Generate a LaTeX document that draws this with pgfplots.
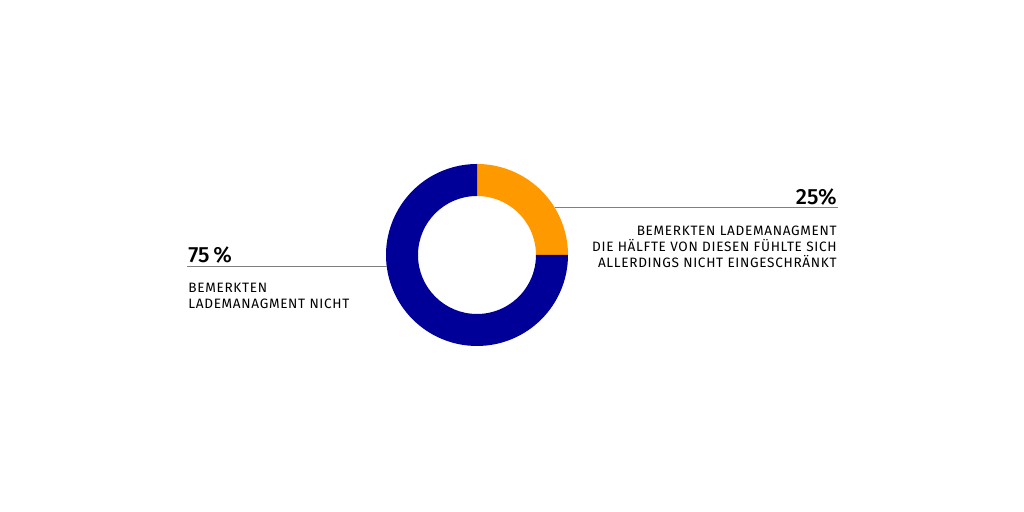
\documentclass[border=0pt]{standalone}
\usepackage{fontspec}
\setmainfont{Fira Sans}
\newfontfamily\labfont[LetterSpace=5]{Fira Sans}
\newfontfamily\numfont[UprightFont={* Medium}]{Fira Sans}
\usepackage{pgfplots}
\usepackage{pgfplotstable}
\pgfplotsset{compat=1.18}

\definecolor{donutorange}{RGB}{255,153,0}
\definecolor{donutblue}{RGB}{0,0,153}
\definecolor{leadergray}{RGB}{128,128,128}

% share in percent, colour
\pgfplotstableread{
share col
25    donutorange
75    donutblue
}\sharetable

\begin{document}
\begin{tikzpicture}
\begin{axis}[
  width=512pt, height=256pt, scale only axis,
  xmin=0, xmax=1024, ymin=0, ymax=512,
  hide axis, clip=false,
]
  \path (axis cs:0,0) rectangle (axis cs:1024,512);
  \pgfplotsextra{%
    \pgfmathsetmacro{\startang}{90}%
    \pgfplotstablegetrowsof{\sharetable}%
    \pgfmathtruncatemacro{\nrows}{\pgfplotsretval-1}%
    \foreach \i in {0,...,\nrows}{%
      \pgfplotstablegetelem{\i}{share}\of\sharetable
      \let\val\pgfplotsretval
      \pgfplotstablegetelem{\i}{col}\of\sharetable
      \let\col\pgfplotsretval
      \pgfmathsetmacro{\endang}{\startang-3.6*\val}%
      \fill[\col] (axis cs:477,257) ++(\startang:45.5pt)
        arc[start angle=\startang, end angle=\endang, radius=45.5pt]
        -- ++(\endang:-16pt)
        arc[start angle=\endang, end angle=\startang, radius=29.5pt]
        -- cycle;
      \xdef\startang{\endang}%
    }%
  }
  % leader lines
  \draw[leadergray, line width=0.5pt] (axis cs:555,304) -- (axis cs:838,304);
  \draw[leadergray, line width=0.5pt] (axis cs:187,245) -- (axis cs:387,245);
  % right labels
  \node[anchor=base east, inner sep=0pt, font=\numfont\fontsize{11}{13}\selectfont]
    at (axis cs:837,307) {25\%};
  \node[anchor=base east, inner sep=0pt, align=right,
        font=\labfont\fontsize{6.8}{8}\selectfont]
    at (axis cs:837,244) {BEMERKTEN LADEMANAGMENT\\DIE HÄLFTE VON DIESEN FÜHLTE SICH\\ALLERDINGS NICHT EINGESCHRÄNKT};
  % left labels
  \node[anchor=base west, inner sep=0pt, font=\numfont\fontsize{11}{13}\selectfont]
    at (axis cs:188,249) {75\,\%};
  \node[anchor=base west, inner sep=0pt, align=left,
        font=\labfont\fontsize{6.8}{8}\selectfont]
    at (axis cs:188,203) {BEMERKTEN\\LADEMANAGMENT NICHT};
\end{axis}
\end{tikzpicture}
\end{document}
